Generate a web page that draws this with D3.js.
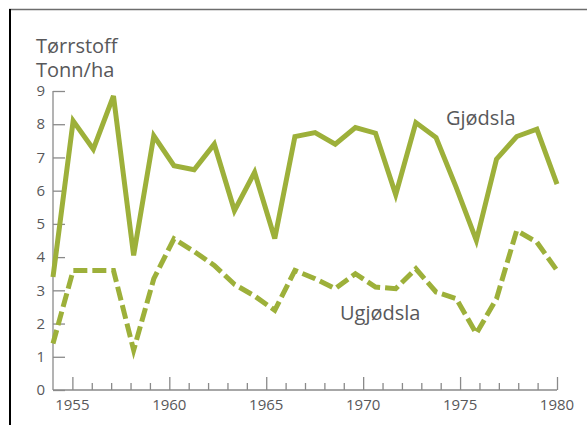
<!DOCTYPE html>
<html>
<head>
<meta charset="utf-8">
<script src="https://cdn.jsdelivr.net/npm/d3@7"></script>
<style>
  body { margin: 0; background: #fff; }
  text { font-family: "Open Sans", sans-serif; fill: #58585a; }
</style>
</head>
<body>
<svg id="chart" width="587" height="425"></svg>
<script>
// data (tonn tørrstoff per ha)
var years = [1955, 1956, 1957, 1958, 1959, 1960, 1961, 1962, 1963, 1964, 1965, 1966, 1967,
             1968, 1969, 1970, 1971, 1972, 1973, 1974, 1975, 1976, 1977, 1978, 1979, 1980];
var gjodsla = [3.4, 8.1, 7.25, 8.85, 4.05, 7.65, 6.75, 6.63, 7.4, 5.4, 6.55, 4.56, 7.63,
               7.75, 7.4, 7.9, 7.73, 5.88, 8.05, 7.6, 6.1, 4.5, 6.95, 7.63, 7.85, 6.2];
var ugjodsla = [1.4, 3.6, 3.6, 3.6, 1.2, 3.35, 4.55, 4.17, 3.75, 3.18, 2.83, 2.4, 3.6,
                3.35, 3.05, 3.5, 3.1, 3.05, 3.65, 2.95, 2.75, 1.7, 2.75, 4.8, 4.45, 3.6];
var yTicks = [0, 1, 2, 3, 4, 5, 6, 7, 8, 9];
var yearTicks = [1955, 1960, 1965, 1970, 1975, 1980];

var green = "#9db03a";
var svg = d3.select("#chart");

// frame
svg.append("line").attr("x1", 9).attr("x2", 587).attr("y1", 9.5).attr("y2", 9.5)
  .attr("stroke", "#6d6d6d").attr("stroke-width", 1.5);
svg.append("line").attr("x1", 10).attr("x2", 10).attr("y1", 9).attr("y2", 425)
  .attr("stroke", "#000").attr("stroke-width", 2);

var x = d3.scaleLinear().domain([1954, 1980]).range([53, 557]);
// the series are spread from the axis origin to 1980
var xd = d3.scaleLinear().domain([1955, 1980]).range([x(1954), x(1980)]);
var y = d3.scaleLinear().domain([0, 9]).range([390, 91]);

// y axis
var yAxis = svg.append("g").attr("transform", "translate(" + x(1954) + ",0)")
  .call(d3.axisRight(y).tickValues(yTicks).tickSize(12).tickFormat(""));
yAxis.select(".domain").attr("d", "M0," + y(9) + "V" + y(0));
yAxis.selectAll("path,line").attr("stroke", "#8a8a8a").attr("stroke-width", 1.3);

svg.append("g").selectAll("text").data(yTicks).enter().append("text")
  .attr("x", 45).attr("y", function (d) { return y(d); })
  .attr("dy", "0.35em").attr("text-anchor", "end")
  .style("font-size", "15px").text(function (d) { return d; });

// x axis
var minor = d3.range(1955, 1981);
var xAxis = svg.append("g").attr("transform", "translate(0," + y(0) + ")")
  .call(d3.axisTop(x).tickValues(minor).tickSize(7).tickFormat(""));
xAxis.select(".domain").attr("d", "M" + x(1954) + ",0H" + x(1980));
xAxis.selectAll(".tick line").filter(function (d) { return d % 5 == 0; }).attr("y2", -13);
xAxis.selectAll("path,line").attr("stroke", "#8a8a8a").attr("stroke-width", 1.3);

svg.append("g").selectAll("text").data(yearTicks).enter().append("text")
  .attr("x", function (d) { return x(d); }).attr("y", 410)
  .attr("text-anchor", "middle").style("font-size", "15px")
  .text(function (d) { return d; });

// lines
var line = d3.line()
  .x(function (d, i) { return xd(years[i]); })
  .y(function (d) { return y(d); });

svg.append("path").datum(gjodsla).attr("d", line)
  .attr("fill", "none").attr("stroke", green).attr("stroke-width", 5);
svg.append("path").datum(ugjodsla).attr("d", line)
  .attr("fill", "none").attr("stroke", green).attr("stroke-width", 5)
  .attr("stroke-dasharray", "14,5");

// labels
var title = svg.append("text").attr("x", 36).attr("y", 53).style("font-size", "20px");
title.append("tspan").attr("x", 36).text("Tørrstoff");
title.append("tspan").attr("x", 36).attr("dy", 24).text("Tonn/ha");
svg.append("text").attr("x", 446).attr("y", 125).style("font-size", "20px").text("Gjødsla");
svg.append("text").attr("x", 340).attr("y", 320).style("font-size", "20px").text("Ugjødsla");
</script>
</body>
</html>
